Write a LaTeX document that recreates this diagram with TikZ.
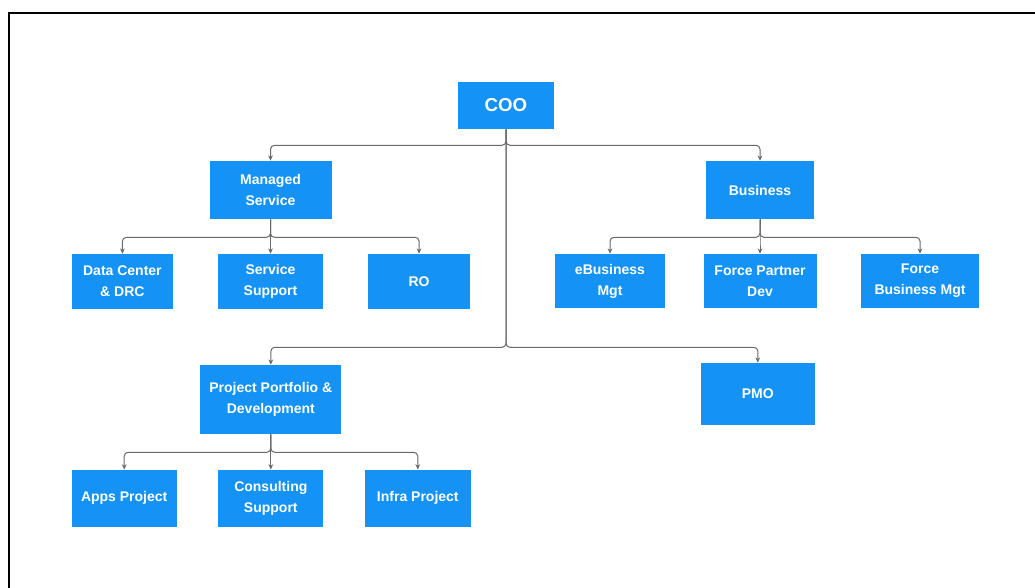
\documentclass[tikz,border=0pt]{standalone}
\usepackage{fontspec}
\setmainfont{Liberation Sans}
\usetikzlibrary{arrows.meta}
\definecolor{boxblue}{RGB}{20,146,245}
\definecolor{linkgray}{RGB}{105,105,105}

\begin{document}
\begin{tikzpicture}[x=0.75pt,y=-0.75pt,
		unit/.style 2 args={fill=boxblue,text=white,align=center,inner sep=0pt,
			font=\bfseries\fontsize{10.5}{15.75}\selectfont,
			minimum width=#1*0.75pt,minimum height=#2*0.75pt},
		link/.style={draw=linkgray,line width=0.75pt,rounded corners=3pt,
			-{Stealth[length=4pt,width=3.5pt]}}]
		\clip (0,0) rectangle (1035,587);
		\draw[line width=1.9pt] (9,13) rectangle (1060,620);
		\node[unit={96}{47},font=\bfseries\fontsize{14}{16}\selectfont] (COO) at (506,105.5) {COO};
		\node[unit={122}{58}] (MS) at (270.5,190) {Managed\\Service};
		\node[unit={108}{58}] (BUS) at (760,190) {Business};
		\node[unit={101}{55}] (DC) at (122.4,281.5) {Data Center\\\& DRC};
		\node[unit={105}{55}] (SS) at (270.5,281.5) {Service\\Support};
		\node[unit={102}{55}] (RO) at (419,281.5) {RO};
		\node[unit={110}{54}] (EB) at (610,281) {eBusiness\\Mgt};
		\node[unit={113}{54}] (FPD) at (760,281) {Force Partner\\Dev};
		\node[unit={118}{54}] (FBM) at (920,281) {Force\\Business Mgt};
		\node[unit={141}{69}] (PPD) at (270.8,399.5) {Project Portfolio \&\\Development};
		\node[unit={114}{62}] (PMO) at (757.8,394) {PMO};
		\node[unit={105}{57}] (AP) at (124.2,498.3) {Apps Project};
		\node[unit={105}{57}] (CS) at (270.8,498.3) {Consulting\\Support};
		\node[unit={106}{57}] (IP) at (417.8,498.3) {Infra Project};
		% connectors
		\foreach \c in {MS,BUS} \draw[link] (COO.south) -- ++(0,16) -| (\c.north);
		\foreach \c in {PPD,PMO} \draw[link] (COO.south) -- ++(0,218) -| (\c.north);
		\foreach \c in {DC,SS,RO} \draw[link] (MS.south) -- ++(0,18) -| (\c.north);
		\foreach \c in {EB,FPD,FBM} \draw[link] (BUS.south) -- ++(0,18) -| (\c.north);
		\foreach \c in {AP,CS,IP} \draw[link] (PPD.south) -- ++(0,18) -| (\c.north);
	\end{tikzpicture}
\end{document}
